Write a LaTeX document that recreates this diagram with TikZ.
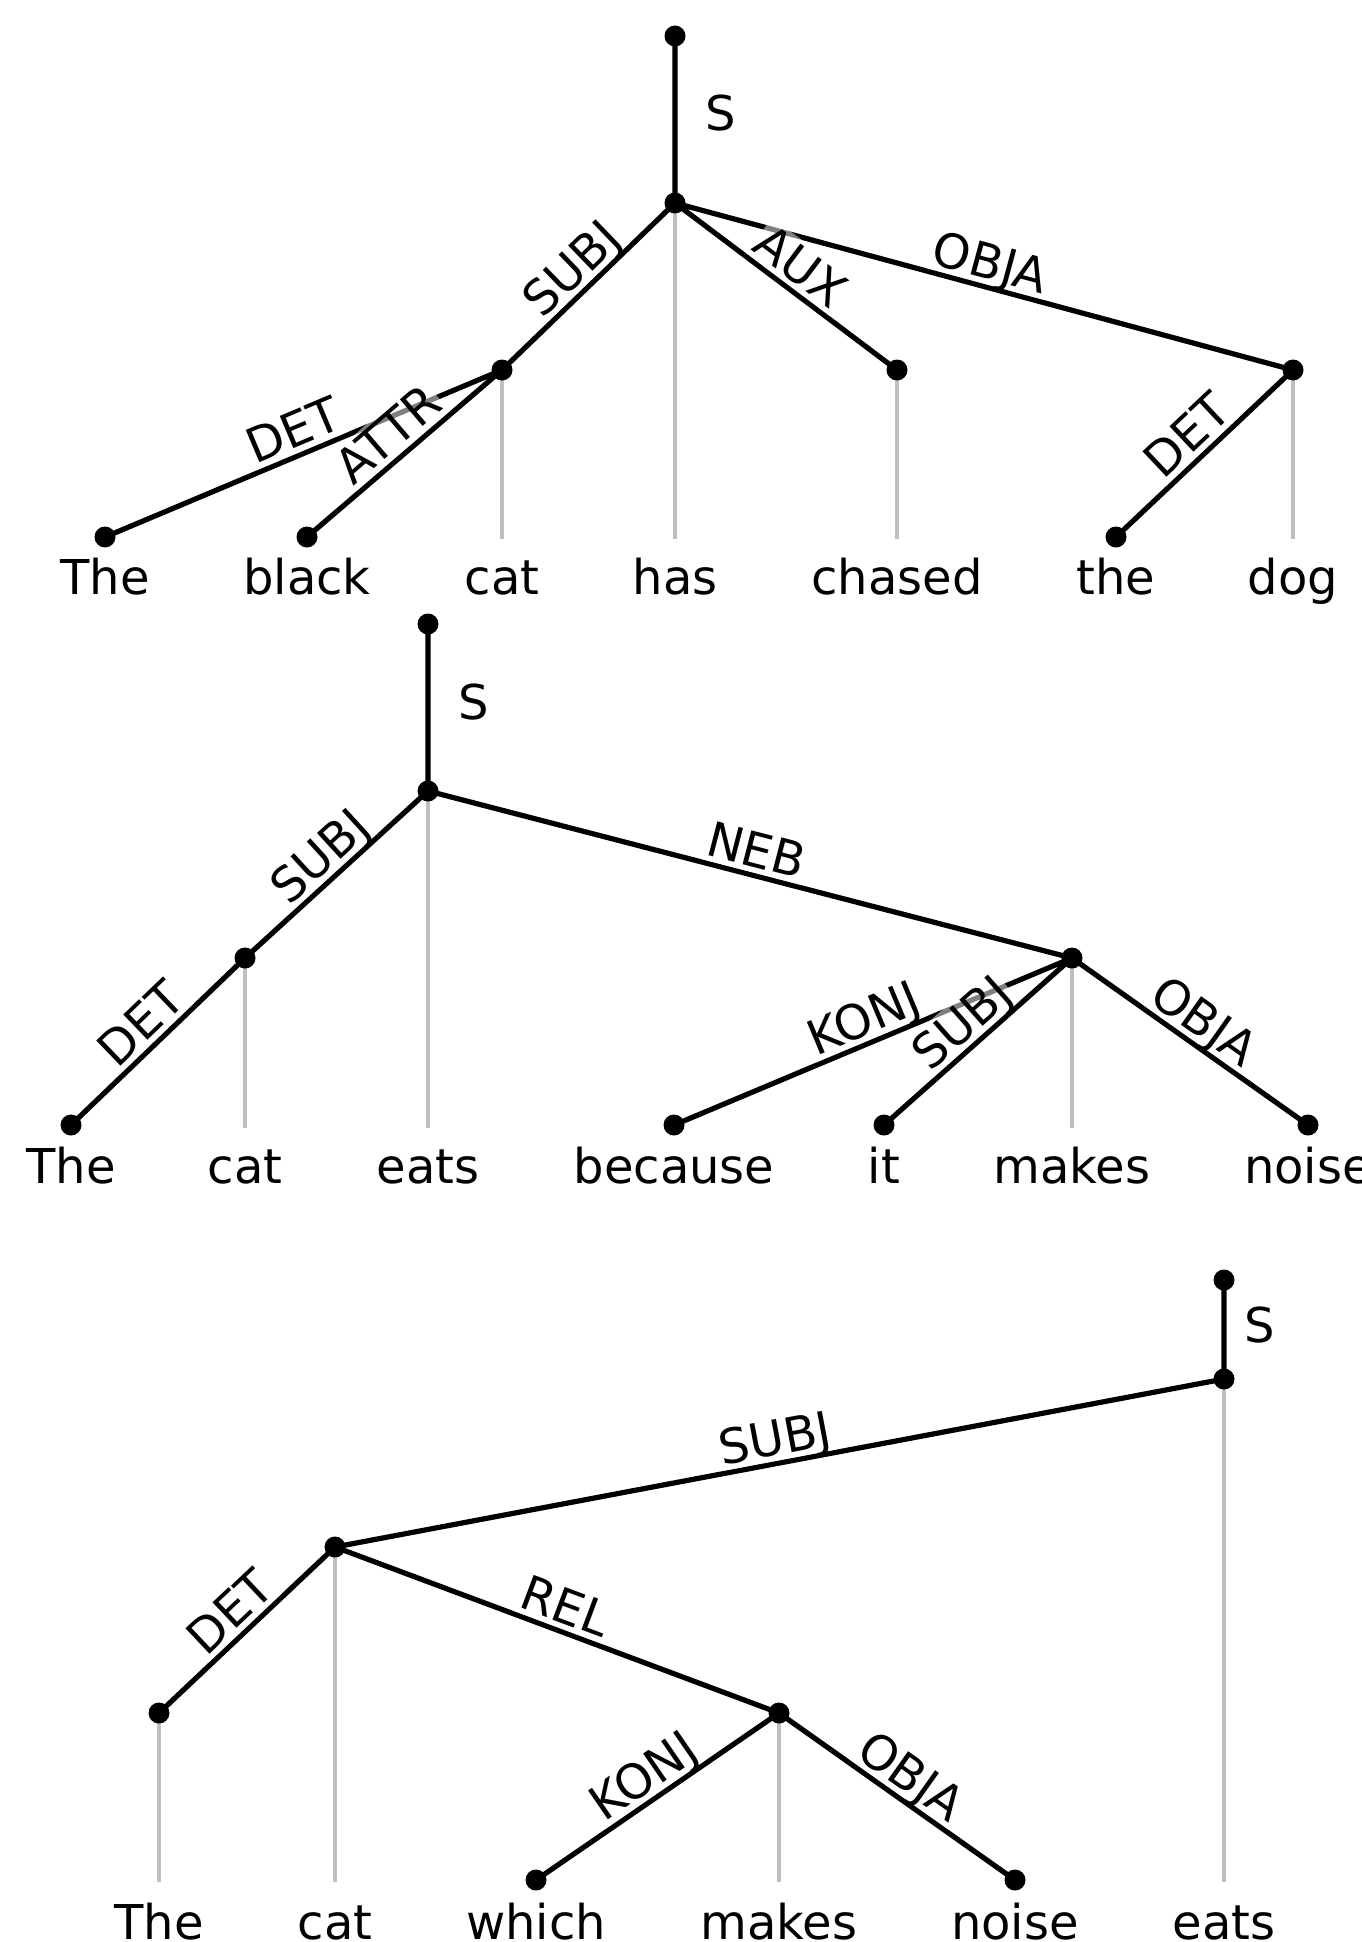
\documentclass[tikz,border=0pt]{standalone}
\usepackage{fontspec}
\setmainfont{DejaVu Sans}
\definecolor{stemgray}{RGB}{191,191,191}
\pgfdeclarelayer{links}
\pgfsetlayers{links,main}
\tikzset{
  txt/.style={font=\fontsize{24}{28}\selectfont},
  dot/.style={circle, fill=black, draw=none, inner sep=0pt, minimum size=10.5pt},
  word/.style={txt, anchor=base, inner sep=0pt},
  dep/.style={line width=2.6pt, draw=black},
  stem/.style={line width=2.4pt, draw=stemgray},
  rel/.style={txt, midway, sloped, above, fill=white, fill opacity=0.5,
    text opacity=1, inner xsep=1pt, inner ysep=1.8pt, text depth=0.1em},
  rootlab/.style={txt, inner sep=0pt}
}
\begin{document}
\begin{tikzpicture}[x=0.5pt, y=-0.5pt]
\useasboundingbox (0,0) rectangle (1361,1942);
\clip (0,0) rectangle (1361,1942);

% ---------- first sentence ----------
\node[dot] (a0) at (675,36) {};
\node[dot] (a1) at (675,203) {};
\node[dot] (a2) at (502,370) {};
\node[dot] (a3) at (897,370) {};
\node[dot] (a4) at (1293,370) {};
\node[dot] (a5) at (105,537) {};
\node[dot] (a6) at (307,537) {};
\node[dot] (a7) at (1116,537) {};
\coordinate (a1e) at (675,539);
\coordinate (a2e) at (502,539);
\coordinate (a3e) at (897,539);
\coordinate (a4e) at (1293,539);
\node[word] (wa1) at (105,594) {The};
\node[word] (wa2) at (307,594) {black};
\node[word] (wa3) at (502,594) {cat};
\node[word] (wa4) at (675,594) {has};
\node[word] (wa5) at (897,594) {chased};
\node[word] (wa6) at (1116,594) {the};
\node[word] (wa7) at (1293,594) {dog};
\node[rootlab] (sa) at (721,113) {S};

% ---------- second sentence ----------
\node[dot] (b0) at (428,624) {};
\node[dot] (b1) at (428,791) {};
\node[dot] (b2) at (245,958) {};
\node[dot] (b3) at (1072,958) {};
\node[dot] (b4) at (71,1125) {};
\node[dot] (b5) at (674,1125) {};
\node[dot] (b6) at (884,1125) {};
\node[dot] (b7) at (1308,1125) {};
\coordinate (b1e) at (428,1128);
\coordinate (b2e) at (245,1128);
\coordinate (b3e) at (1072,1128);
\node[word] (wb1) at (71,1183) {The};
\node[word] (wb2) at (245,1183) {cat};
\node[word] (wb3) at (428,1183) {eats};
\node[word] (wb4) at (674,1183) {because};
\node[word] (wb5) at (884,1183) {it};
\node[word] (wb6) at (1072,1183) {makes};
\node[word] (wb7) at (1308,1183) {noise};
\node[rootlab] (sb) at (474,702) {S};

% ---------- third sentence ----------
\node[dot] (c0) at (1224,1280) {};
\node[dot] (c1) at (1224,1379) {};
\node[dot] (c2) at (335,1547) {};
\node[dot] (c3) at (159,1713) {};
\node[dot] (c4) at (779,1713) {};
\node[dot] (c5) at (536,1880) {};
\node[dot] (c6) at (1015,1880) {};
\coordinate (c1e) at (1224,1882);
\coordinate (c2e) at (335,1882);
\coordinate (c3e) at (159,1882);
\coordinate (c4e) at (779,1882);
\node[word] (wc1) at (159,1939) {The};
\node[word] (wc2) at (335,1939) {cat};
\node[word] (wc3) at (536,1939) {which};
\node[word] (wc4) at (779,1939) {makes};
\node[word] (wc5) at (1015,1939) {noise};
\node[word] (wc6) at (1224,1939) {eats};
\node[rootlab] (sc) at (1260,1325) {S};

\begin{pgfonlayer}{links}
  % grey projection lines down to the words
  \draw[stem] (a1.center) -- (a1e) (a2.center) -- (a2e)
              (a3.center) -- (a3e) (a4.center) -- (a4e);
  \draw[stem] (b1.center) -- (b1e) (b2.center) -- (b2e) (b3.center) -- (b3e);
  \draw[stem] (c1.center) -- (c1e) (c2.center) -- (c2e)
              (c3.center) -- (c3e) (c4.center) -- (c4e);

  % dependency arcs with their relation labels
  \draw[dep] (a0.center) -- (a1.center)
    (a1.center) -- node[rel] {SUBJ} (a2.center)
    (a1.center) -- node[rel] {AUX} (a3.center)
    (a1.center) -- node[rel] {OBJA} (a4.center)
    (a2.center) -- node[rel] {DET} (a5.center)
    (a2.center) -- node[rel] {ATTR} (a6.center)
    (a4.center) -- node[rel] {DET} (a7.center);

  \draw[dep] (b0.center) -- (b1.center)
    (b1.center) -- node[rel] {SUBJ} (b2.center)
    (b1.center) -- node[rel] {NEB} (b3.center)
    (b2.center) -- node[rel] {DET} (b4.center)
    (b3.center) -- node[rel] {KONJ} (b5.center)
    (b3.center) -- node[rel] {SUBJ} (b6.center)
    (b3.center) -- node[rel] {OBJA} (b7.center);

  \draw[dep] (c0.center) -- (c1.center)
    (c1.center) -- node[rel] {SUBJ} (c2.center)
    (c2.center) -- node[rel] {DET} (c3.center)
    (c2.center) -- node[rel] {REL} (c4.center)
    (c4.center) -- node[rel] {KONJ} (c5.center)
    (c4.center) -- node[rel] {OBJA} (c6.center);
\end{pgfonlayer}
\end{tikzpicture}
\end{document}
